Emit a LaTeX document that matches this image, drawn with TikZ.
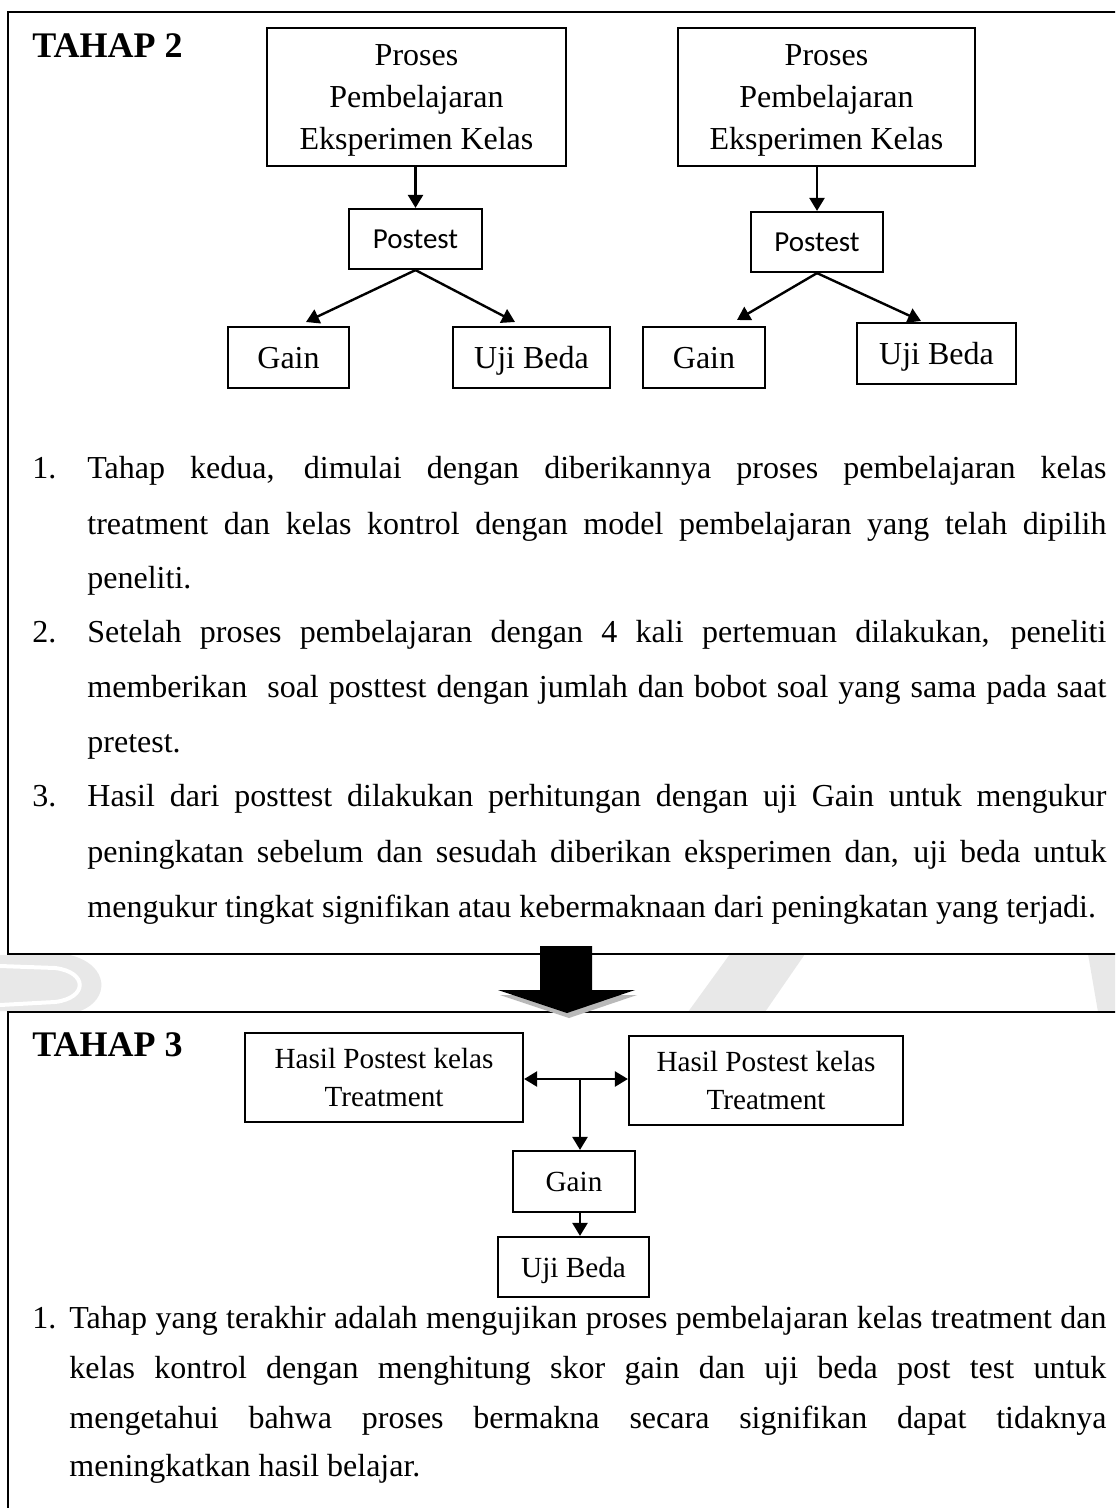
\documentclass[tikz,border=0pt]{standalone}
\usepackage{fontspec}
\setmainfont{Liberation Serif}
\newfontfamily\calfont{Carlito}
\usetikzlibrary{arrows.meta,fit}
\begin{document}
\begin{tikzpicture}[x=0.5pt,y=-0.5pt,
  box/.style={draw, line width=1.1pt, inner sep=0pt, align=center, text depth=0pt},
  frame/.style={draw, line width=1.1pt, inner sep=0pt},
  conn/.style={line width=1.2pt, -{Triangle[length=6.5pt,width=7.5pt]}},
  dconn/.style={line width=1.2pt, {Triangle[length=6.5pt,width=7.5pt]}-{Triangle[length=6.5pt,width=7.5pt]}},
  big/.style={font=\fontsize{16}{21}\selectfont},
  small/.style={font=\fontsize{14.6}{19}\selectfont},
  cal/.style={font=\calfont\fontsize{14.5}{18}\selectfont},
  head/.style={anchor=base west, inner sep=0pt, font=\bfseries\fontsize{18}{22}\selectfont},
  txt/.style={anchor=base west, inner sep=0pt, font=\fontsize{16}{20}\selectfont},
  wm/.style={fill=gray!18, draw=none},
]
\useasboundingbox (0,0) rectangle (1115,1508);
\clip (0,0) rectangle (1115,1508);
\fill[white] (0,0) rectangle (1115,1508);

% faint watermark visible between the frames
\fill[wm] (0,955) -- (70,955) .. controls (110,965) and (110,1000) .. (80,1011) -- (0,1011) -- cycle;
\draw[white, line width=2pt] (0,966) -- (55,968) .. controls (88,972) and (88,998) .. (55,1002) -- (0,1005);
\fill[wm] (730,954) -- (805,954) -- (765,1012) -- (688,1012) -- cycle;
\fill[wm] (1088,954) -- (1115,954) -- (1115,1012) -- (1098,1012) -- cycle;

% frames
\node[frame, fit={(8,12)(1135,954)}] (f2) {};
\node[frame, fit={(8,1012)(1135,1540)}] (f3) {};

% ---------- TAHAP 2 ----------
\node[head] (h2) at (32,58) {TAHAP 2};

\node[box, big, minimum width=149.5pt, minimum height=69pt] (pL) at (416.5,97) {Proses\\Pembelajaran\\Eksperimen Kelas};
\node[box, big, minimum width=148.5pt, minimum height=69pt] (pR) at (826.5,97) {Proses\\Pembelajaran\\Eksperimen Kelas};
\node[box, cal, minimum width=66.5pt, minimum height=30pt] (qL) at (415.5,239) {Postest};
\node[box, cal, minimum width=66pt, minimum height=30pt] (qR) at (817,242) {Postest};
\node[box, big, minimum width=60.5pt, minimum height=30.5pt] (gL) at (288.5,357.5) {Gain};
\node[box, big, minimum width=78.5pt, minimum height=30.5pt] (uL) at (531.5,357.5) {Uji Beda};
\node[box, big, minimum width=61pt, minimum height=30.5pt] (gR) at (704,357.5) {Gain};
\node[box, big, minimum width=79.5pt, minimum height=30.5pt] (uR) at (936.5,353.5) {Uji Beda};

\coordinate (gLt) at (306,322);
\coordinate (uLt) at (515,322);
\coordinate (gRt) at (737,320);
\coordinate (uRt) at (921,321);

\draw[conn] (qL.north |- pL.south) -- (qL.north);
\draw[conn] (qL.south) -- (gLt);
\draw[conn] (qL.south) -- (uLt);
\draw[conn] (qR.north |- pR.south) -- (qR.north);
\draw[conn] (qR.south) -- (gRt);
\draw[conn] (qR.south) -- (uRt);

% list of TAHAP 2
\node[txt] (n1) at (32,478) {1.};
\node[txt] (l1a) at (87,478) {\makebox[509.5pt][s]{Tahap kedua, dimulai dengan diberikannya proses pembelajaran kelas}};
\node[txt] (l1b) at (87,534) {\makebox[509.5pt][s]{treatment dan kelas kontrol dengan model pembelajaran yang telah dipilih}};
\node[txt] (l1c) at (87,588) {peneliti.};
\node[txt] (n2) at (32,642) {2.};
\node[txt] (l2a) at (87,642) {\makebox[509.5pt][s]{Setelah proses pembelajaran dengan 4 kali pertemuan dilakukan, peneliti}};
\node[txt] (l2b) at (87,697) {\makebox[509.5pt][s]{memberikan\ \ soal posttest dengan jumlah dan bobot soal yang sama pada saat}};
\node[txt] (l2c) at (87,752) {pretest.};
\node[txt] (n3) at (32,806) {3.};
\node[txt] (l3a) at (87,806) {\makebox[509.5pt][s]{Hasil dari posttest dilakukan perhitungan dengan uji Gain untuk mengukur}};
\node[txt] (l3b) at (87,862) {\makebox[509.5pt][s]{peningkatan sebelum dan sesudah diberikan eksperimen dan, uji beda untuk}};
\node[txt] (l3c) at (87,917) {mengukur tingkat signifikan atau kebermaknaan dari peningkatan yang terjadi.};

% big block arrow between the stages
\fill[gray!55, shift={(2,5)}] (540,990) -- (498,990) -- (567,1013) -- (635,990) -- (592,990) -- cycle;
\fill[black] (540,946) -- (592,946) -- (592,990) -- (635,990) -- (567,1013) -- (498,990) -- (540,990) -- cycle;

% ---------- TAHAP 3 ----------
\node[head] (h3) at (32,1056) {TAHAP 3};

\node[box, small, minimum width=139pt, minimum height=44.5pt] (hL) at (384,1077.5) {Hasil Postest kelas\\Treatment};
\node[box, small, minimum width=137pt, minimum height=44.5pt] (hR) at (766,1080.5) {Hasil Postest kelas\\Treatment};
\node[box, small, minimum width=61pt, minimum height=30.5pt] (g3) at (574,1181.5) {Gain};
\node[box, small, minimum width=75.5pt, minimum height=30pt] (u3) at (573.5,1267) {Uji Beda};

\coordinate (mid) at (580,1079);
\draw[dconn] (hL.east |- mid) -- (hR.west |- mid);
\draw[conn] (mid) -- (mid |- g3.north);
\draw[conn] (mid |- g3.south) -- (mid |- u3.north);

% list of TAHAP 3
\node[txt] (m1) at (32,1328) {1.};
\node[txt] (k1a) at (69,1328) {\makebox[518.5pt][s]{Tahap yang terakhir adalah mengujikan proses pembelajaran kelas treatment dan}};
\node[txt] (k1b) at (69,1378) {\makebox[518.5pt][s]{kelas kontrol dengan menghitung skor gain dan uji beda post test untuk}};
\node[txt] (k1c) at (69,1428) {\makebox[518.5pt][s]{mengetahui bahwa proses bermakna secara signifikan dapat tidaknya}};
\node[txt] (k1d) at (69,1476) {meningkatkan hasil belajar.};
\end{tikzpicture}
\end{document}
